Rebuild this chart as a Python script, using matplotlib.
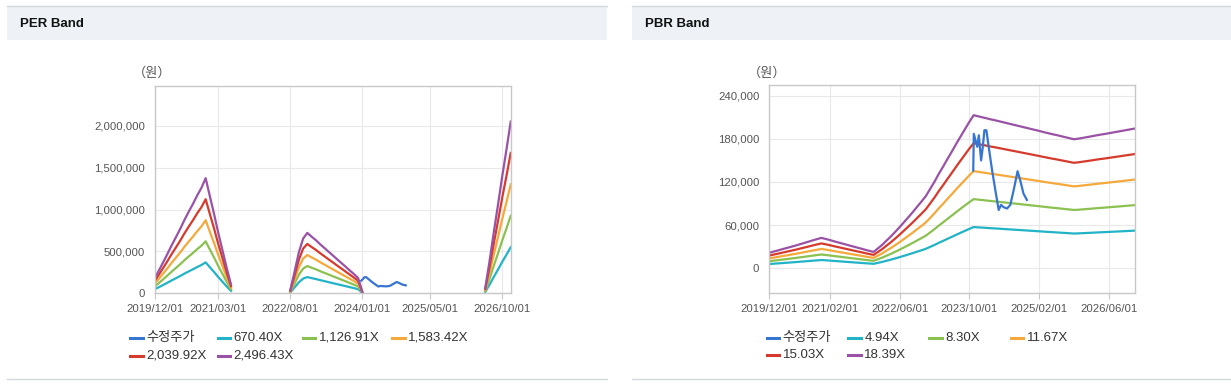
import matplotlib.pyplot as plt
from matplotlib.lines import Line2D
from matplotlib.patches import Rectangle
from matplotlib.ticker import FuncFormatter
import numpy as np
import pandas as pd

plt.rcParams['font.family'] = ['Liberation Sans', 'Noto Sans CJK KR']

# monthly points 2019/12 .. 2026/12
months = pd.date_range('2019-12-01', '2026-12-01', freq='MS')
nan = np.nan
eps = [72, 110, 150, 188, 230, 268, 308, 350, 390, 428, 468, 505, 551,
       462, 375, 290, 205, 122, 42,
       nan, nan, nan, nan, nan, nan, nan, nan, nan, nan, nan, nan, nan,
       15, 105, 195, 262, 289, 271, 254, 236, 218, 200, 182, 164, 146, 128, 110, 92, 73, 5,
       nan, nan, nan, nan, nan, nan, nan, nan, nan, nan, nan, nan, nan, nan,
       nan, nan, nan, nan, nan, nan, nan, nan, nan, nan, nan, nan, nan, nan,
       25, 150, 290, 425, 560, 690, 822]
bps = [1160, 1250, 1340, 1430, 1520, 1610, 1700, 1800, 1900, 2000, 2100, 2200, 2290,
       2210, 2120, 2030, 1940, 1850, 1760, 1670, 1580, 1490, 1400, 1310, 1230,
       1500, 1780, 2080, 2400, 2740, 3100, 3470, 3850, 4240, 4640, 5040, 5450,
       6000, 6560, 7120, 7680, 8250, 8820, 9390, 9960, 10520, 11060, 11580,
       11500, 11420, 11340, 11260, 11190, 11110, 11030, 10950, 10870, 10790, 10710, 10630,
       10550, 10470, 10390, 10310, 10230, 10150, 10080, 10000, 9920, 9840, 9760,
       9800, 9860, 9920, 9980, 10040, 10100, 10150, 10210, 10270, 10330, 10390, 10450, 10510, 10570]

per_multiples = [670.40, 1126.91, 1583.42, 2039.92, 2496.43]
per_labels = ['670.40X', '1,126.91X', '1,583.42X', '2,039.92X', '2,496.43X']
pbr_multiples = [4.94, 8.30, 11.67, 15.03, 18.39]
pbr_labels = ['4.94X', '8.30X', '11.67X', '15.03X', '18.39X']

price_dates = pd.to_datetime(['2023-10-29', '2023-11-02', '2023-11-26', '2023-12-07', '2023-12-23',
                              '2024-01-04', '2024-01-15', '2024-01-29', '2024-02-14', '2024-03-09',
                              '2024-04-01', '2024-04-24', '2024-05-10', '2024-05-28', '2024-06-21',
                              '2024-07-14', '2024-08-06', '2024-09-03', '2024-09-22', '2024-10-14',
                              '2024-11-07'])
price = [136000, 187000, 169000, 185000, 150000, 169000, 192000, 192000, 169000, 136000,
         108000, 81000, 88000, 85000, 83000, 88000, 108000, 135000, 122000, 104000, 95000]
per_price_from = pd.Timestamp('2023-12-20')

per_xticks = ['2019/12/01', '2021/03/01', '2022/08/01', '2024/01/01', '2025/05/01', '2026/10/01']
pbr_xticks = ['2019/12/01', '2021/02/01', '2022/06/01', '2023/10/01', '2025/02/01', '2026/06/01']

band_colors = ['#22b3c7', '#8bc151', '#f5a93b', '#d63a2c', '#9a52a6']
price_color = '#3675d2'

W, H = 1231, 387
fig = plt.figure(figsize=(W / 100, H / 100), dpi=100)
fig.patch.set_facecolor('white')


def box(x0, y0, x1, y1):
    # pixel box (top-left origin) -> figure fraction rect
    return [x0 / W, 1 - y1 / H, (x1 - x0) / W, (y1 - y0) / H]


def fx(x):
    return x / W


def fy(y):
    return 1 - y / H


# panel frames
for x0, x1, title in [(7, 607, 'PER Band'), (632, 1231, 'PBR Band')]:
    r = box(x0, 6, x1, 40)
    fig.patches.append(Rectangle((r[0], r[1]), r[2], r[3], transform=fig.transFigure,
                                 facecolor='#eef2f7', edgecolor='none', zorder=0))
    fig.add_artist(Line2D([fx(x0), fx(x1)], [fy(5.5), fy(5.5)], color='#d4d7db', lw=1))
    fig.add_artist(Line2D([fx(x0), fx(x1)], [fy(378.5), fy(378.5)], color='#d4d7db', lw=1))
    fig.text(fx(x0 + 13), fy(24), title, fontsize=9.5, fontweight='bold', color='#111111',
             ha='left', va='center')


def style_axis(ax, xticks, ylim, yticks):
    ax.set_xlim(pd.Timestamp('2019-12-01'), pd.Timestamp('2026-12-03'))
    ax.set_ylim(*ylim)
    ax.set_yticks(yticks)
    ax.yaxis.set_major_formatter(FuncFormatter(lambda v, p: f'{int(v):,}'))
    ax.set_xticks(pd.to_datetime([t.replace('/', '-') for t in xticks]))
    ax.set_xticklabels(xticks)
    ax.tick_params(axis='x', length=4, color='#c8c8c8', pad=4, labelsize=8.2, labelcolor='#555555')
    ax.tick_params(axis='y', length=0, pad=7, labelsize=8.2, labelcolor='#555555')
    ax.grid(True, color='#e9e9e9', lw=0.8)
    ax.set_axisbelow(True)
    for s in ax.spines.values():
        s.set_color('#c8c8c8')
        s.set_linewidth(1)


# PER chart
ax1 = fig.add_axes(box(154.7, 85.7, 511, 293.3))
style_axis(ax1, per_xticks, (0, 2480000), [0, 500000, 1000000, 1500000, 2000000])
for m, c in zip(per_multiples, band_colors):
    ax1.plot(months, np.array(eps) * m, color=c, lw=1.6)
pmask = price_dates >= per_price_from
ax1.plot(price_dates[pmask], np.array(price)[pmask], color=price_color, lw=1.6)

# PBR chart
ax2 = fig.add_axes(box(769, 85, 1135, 293.3))
style_axis(ax2, pbr_xticks, (-35000, 255000), [0, 60000, 120000, 180000, 240000])
for m, c in zip(pbr_multiples, band_colors):
    ax2.plot(months, np.array(bps) * m, color=c, lw=1.6)
ax2.plot(price_dates, price, color=price_color, lw=1.6)

fig.text(fx(133), fy(73), '（원）', fontsize=9.5, color='#555555', ha='left', va='center')
fig.text(fx(748), fy(73), '（원）', fontsize=9.5, color='#555555', ha='left', va='center')


def legend(cols, rows, labels, colors):
    slots = [(cols[i % 4], rows[i // 4]) for i in range(len(labels))]
    for (x, y), lab, c in zip(slots, labels, colors):
        fig.add_artist(Line2D([fx(x), fx(x + 12.7)], [fy(y), fy(y)], color=c, lw=2.2))
        fig.text(fx(x + 16), fy(y), lab, fontsize=9.5, color='#333333', ha='left', va='center')


legend([130, 217.7, 302.7, 392.3], [337.7, 355.7], ['수정주가'] + per_labels,
       [price_color] + band_colors)
legend([766.7, 848.3, 929.3, 1010.7], [338.3, 355.3], ['수정주가'] + pbr_labels,
       [price_color] + band_colors)

fig.savefig('out.png', dpi=100)
